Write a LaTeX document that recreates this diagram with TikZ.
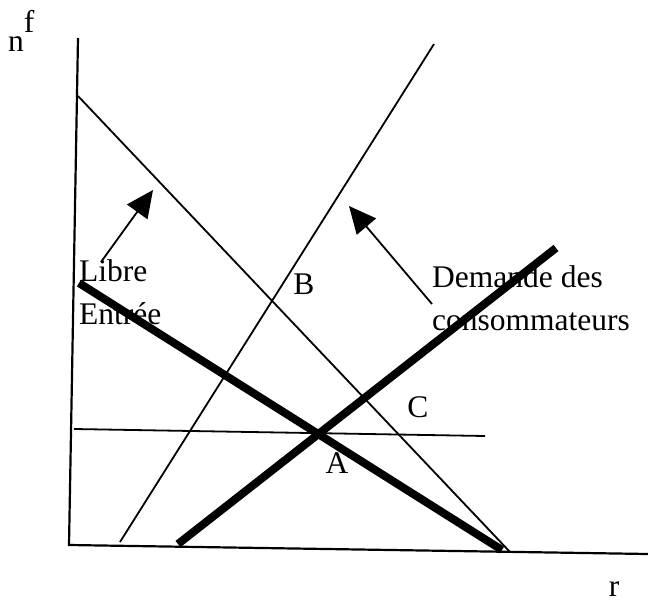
\documentclass[tikz,border=0pt]{standalone}
\usepackage{fontspec}
\setmainfont{Liberation Serif}
\usetikzlibrary{arrows.meta, positioning}

\begin{document}
\begin{tikzpicture}[
    x=1pt, y=-1pt,
    lbl/.style={inner sep=0pt, align=left, font=\fontsize{31.5}{43}\selectfont},
    axis/.style={line width=2.2pt},
    thin line/.style={line width=1.8pt},
    thick line/.style={line width=8pt},
    arrow/.style={line width=1.8pt, -{Triangle[length=27pt, width=25pt]}}
]
    \useasboundingbox (0,0) rectangle (648,602);

    % axes
    \coordinate (origin) at (69,545);
    \coordinate (ytop) at (78,38);
    \coordinate (xend) at (648,554);
    \draw[axis] (ytop) -- (origin) -- (xend);
    \node[lbl, anchor=base west] (nf) at (8,52) {n\raisebox{19pt}{f}};
    \node[lbl, anchor=base] (r) at (614,596) {r};

    % curves
    \coordinate (fe1) at (78,96);
    \coordinate (fe2) at (510,552);
    \coordinate (cd1) at (120,542);
    \coordinate (cd2) at (434,44);
    \coordinate (ht1) at (74,429);
    \coordinate (ht2) at (485,436);
    \coordinate (tk1) at (79,283);
    \coordinate (tk2) at (502,550);
    \coordinate (td1) at (178,544);
    \coordinate (td2) at (556,248);
    \draw[thin line] (fe1) -- (fe2);
    \draw[thin line] (cd1) -- (cd2);
    \draw[thin line] (ht1) -- (ht2);
    \draw[thick line] (tk1) -- (tk2);
    \draw[thick line] (td1) -- (td2);

    % labels
    \node[lbl, anchor=north west] (libre) at (79,259.5) {Libre\\Entrée};
    \node[lbl, anchor=north west] (demande) at (432,265.5) {Demande des\\consommateurs};
    \node[lbl] (ptA) at (337,463) {A};
    \node[lbl] (ptB) at (304,284) {B};
    \node[lbl] (ptC) at (418,407) {C};

    % shifts
    \coordinate (la) at (101,262);
    \coordinate (lb) at (153,190);
    \coordinate (da) at (432,304);
    \coordinate (db) at (349,206);
    \draw[arrow] (la) -- (lb);
    \draw[arrow] (da) -- (db);
\end{tikzpicture}
\end{document}
